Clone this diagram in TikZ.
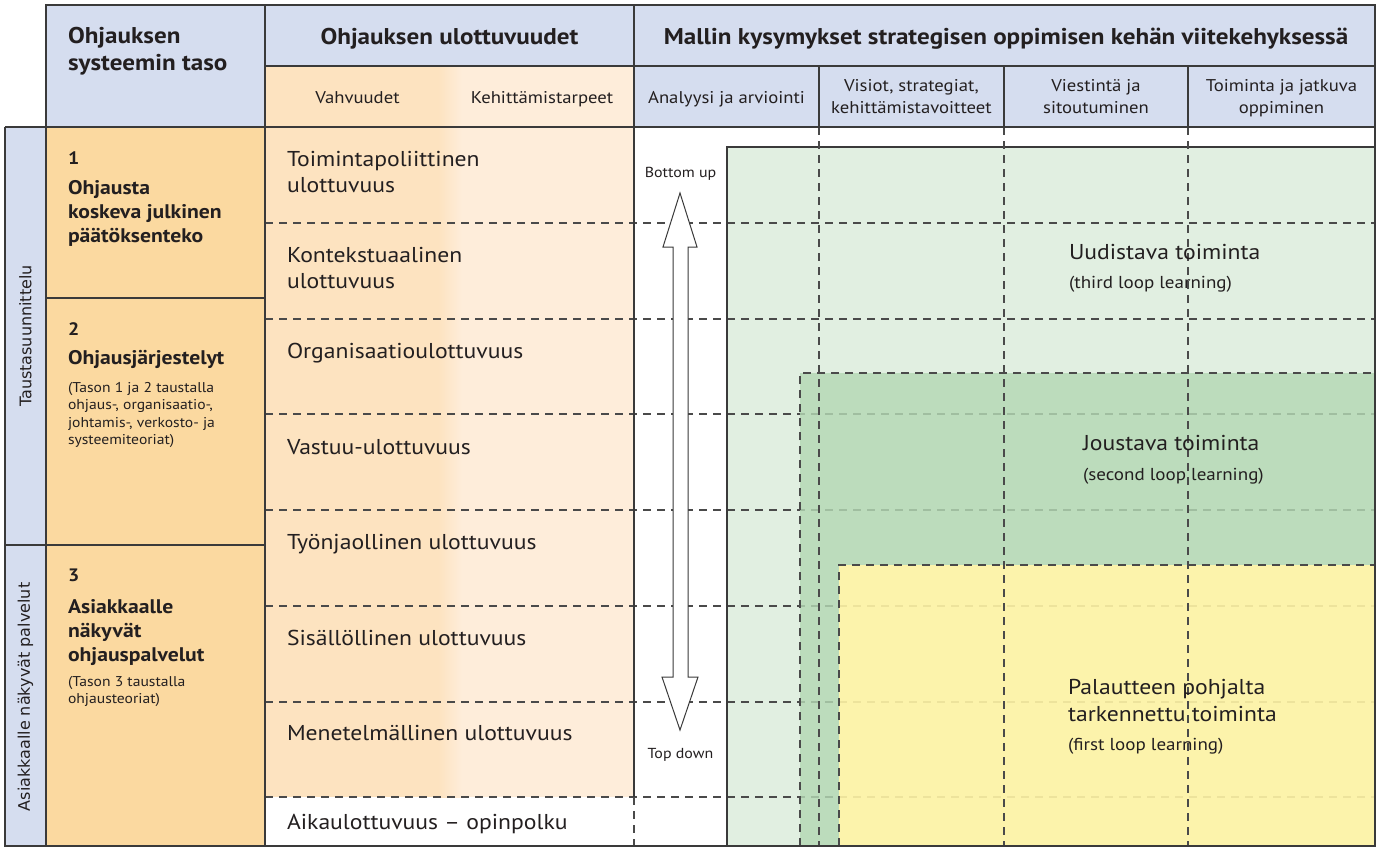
\documentclass[tikz,border=0pt]{standalone}
\usepackage{fontspec}
\setmainfont{PT Sans}[FakeStretch=1.1]
\newfontfamily\stripfont{DejaVu Sans}
\definecolor{hblue}{HTML}{D5DDEF}
\definecolor{lorange}{HTML}{FBD9A0}
\definecolor{peachA}{HTML}{FDE3C0}
\definecolor{peachB}{HTML}{FEEDDA}
\definecolor{lgreen}{HTML}{E1EFE1}
\definecolor{dgreen}{HTML}{B4D8B4}
\definecolor{yel}{HTML}{FFF4A6}
\definecolor{linec}{HTML}{3A3A3A}
\definecolor{dashc}{HTML}{4A4A4A}
\definecolor{txtc}{HTML}{231F20}
\newcommand{\lftlines}[1]{\begin{tabular}[t]{@{}l@{}}#1\end{tabular}}
\newcommand{\ctrlines}[1]{\begin{tabular}[t]{@{}c@{}}#1\end{tabular}}
\tikzset{
  gridline/.style={draw=linec, line width=1.2pt},
  dline/.style={draw=dashc, line width=1.2pt, dash pattern=on 8pt off 6pt},
  tx/.style={inner sep=0pt, outer sep=0pt, text=txtc},
  hdr/.style={tx, font=\fontsize{22.8}{26.5}\selectfont\bfseries},
  subh/.style={tx, font=\fontsize{17}{22}\selectfont, anchor=base},
  dimlab/.style={tx, font=\fontsize{21.5}{26.5}\selectfont, anchor=base west},
  lvlnum/.style={tx, font=\fontsize{18}{20}\selectfont\bfseries, anchor=base west},
  lvltitle/.style={tx, font=\fontsize{19.7}{24.3}\selectfont\bfseries, anchor=base west},
  lvlnote/.style={tx, font=\fontsize{14.2}{17.6}\selectfont, anchor=base west},
  striplab/.style={tx, font=\stripfont\fontsize{16}{18}\selectfont, rotate=90},
  looptitle/.style={tx, font=\fontsize{21.5}{27}\selectfont, anchor=base west},
  loopnote/.style={tx, font=\fontsize{17.3}{19}\selectfont, anchor=base west},
  arrlab/.style={tx, font=\fontsize{14.5}{16}\selectfont, anchor=base},
}
\begin{document}
\begin{tikzpicture}[x=1pt,y=-1pt]
\useasboundingbox (0,0) rectangle (1379,851);
\fill[white] (0,0) rectangle (1379,851);

% ---------- background fills ----------
\fill[hblue] (46,5) rectangle (1375,66);
\fill[hblue] (46,66) rectangle (265,127);
\fill[hblue] (634,66) rectangle (1375,127);
\fill[peachA] (265,66) rectangle (438,797);
\shade[left color=peachA, right color=peachB] (438,66) rectangle (462,797);
\fill[peachB] (462,66) rectangle (634,797);
\fill[hblue] (5,127) rectangle (46,846);
\fill[lorange] (46,127) rectangle (265,846);
\fill[lgreen] (727,147) rectangle (1375,846);

% ---------- horizontal dashed row lines ----------
\foreach \yy in {223,319,414,510,606,702,797}
  \draw[dline] (265,\yy) -- (1375,\yy);

% ---------- learning loop areas ----------
\fill[dgreen, fill opacity=0.82] (800,373) -- (1375,373) -- (1375,565) -- (839,565) -- (839,846) -- (800,846) -- cycle;
\fill[yel, fill opacity=0.9] (839,565) rectangle (1375,846);
\draw[dline] (800,846) -- (800,373) -- (1375,373);
\draw[dline] (839,846) -- (839,565) -- (1375,565);
\draw[gridline, line width=1.1pt] (727,846) -- (727,147) -- (1375,147);

% ---------- vertical dashed column lines ----------
\foreach \xx in {819,1004,1188}
  \draw[dline] (\xx,127) -- (\xx,846);
\draw[dline] (634,797) -- (634,846);

% ---------- double arrow ----------
\draw[draw=linec, fill=white, line width=1pt, line join=miter]
  (680,193) -- (697,247) -- (688,247) -- (688,677) -- (698,677) -- (680,730)
  -- (662,677) -- (673,677) -- (673,247) -- (663,247) -- cycle;

% ---------- solid grid lines ----------
\draw[gridline] (46,5) rectangle (1375,127);
\draw[gridline] (265,5) -- (265,846);
\draw[gridline] (634,5) -- (634,797);
\draw[gridline] (265,66) -- (1375,66);
\foreach \xx in {819,1004,1188}
  \draw[gridline] (\xx,66) -- (\xx,127);
\draw[gridline] (5,127) -- (1375,127);
\draw[gridline] (5,127) -- (5,846) -- (1375,846) -- (1375,5);
\draw[gridline] (46,127) -- (46,846);
\draw[gridline] (46,298) -- (265,298);
\draw[gridline] (5,545) -- (265,545);

% ---------- header texts ----------
\node[hdr, anchor=base west] (hsys) at (68,44) {\lftlines{Ohjauksen\\systeemin taso}};
\node[hdr, anchor=base] (hdim) at (449.5,45) {Ohjauksen ulottuvuudet};
\node[hdr, anchor=base] (hmal) at (1006,45) {Mallin kysymykset strategisen oppimisen kehän viitekehyksessä};
\node[subh] (svah) at (357.5,103) {Vahvuudet};
\node[subh] (skeh) at (542,103) {Kehittämistarpeet};
\node[subh] (sana) at (726.5,103) {Analyysi ja arviointi};
\node[subh] (svis) at (911.5,92) {\ctrlines{Visiot, strategiat,\\kehittämistavoitteet}};
\node[subh] (svie) at (1096,92) {\ctrlines{Viestintä ja\\sitoutuminen}};
\node[subh] (stoi) at (1281.5,92) {\ctrlines{Toiminta ja jatkuva\\oppiminen}};

% ---------- vertical strip labels ----------
\node[striplab] (taus) at (25.5,336) {Taustasuunnittelu};
\node[striplab] (asia) at (25.5,697) {Asiakkaalle näkyvät palvelut};

% ---------- level texts ----------
\node[lvlnum] (n1) at (68,164) {1};
\node[lvltitle] (t1) at (68,194) {\lftlines{Ohjausta\\koskeva julkinen\\päätöksenteko}};
\node[lvlnum] (n2) at (68,335) {2};
\node[lvltitle] (t2) at (68,364) {Ohjausjärjestelyt};
\node[lvlnote] (o2) at (68,392) {\lftlines{(Tason 1 ja 2 taustalla\\ohjaus-, organisaatio-,\\johtamis-, verkosto- ja\\systeemiteoriat)}};
\node[lvlnum] (n3) at (68,581) {3};
\node[lvltitle] (t3) at (68,613) {\lftlines{Asiakkaalle\\näkyvät\\ohjauspalvelut}};
\node[lvlnote] (o3) at (68,686) {\lftlines{(Tason 3 taustalla\\ohjausteoriat)}};

% ---------- dimension labels ----------
\node[dimlab] (d1) at (287,166) {\lftlines{Toimintapoliittinen\\ulottuvuus}};
\node[dimlab] (d2) at (287,262) {\lftlines{Kontekstuaalinen\\ulottuvuus}};
\node[dimlab] (d3) at (287,358) {Organisaatioulottuvuus};
\node[dimlab] (d4) at (287,454) {Vastuu-ulottuvuus};
\node[dimlab] (d5) at (287,549) {Työnjaollinen ulottuvuus};
\node[dimlab] (d6) at (287,645) {Sisällöllinen ulottuvuus};
\node[dimlab] (d7) at (287,740) {Menetelmällinen ulottuvuus};
\node[dimlab] (d8) at (287,829) {Aikaulottuvuus – opinpolku};

% ---------- arrow labels ----------
\node[arrlab] (bup) at (680.5,177) {Bottom up};
\node[arrlab] (tdn) at (680.5,758) {Top down};

% ---------- loop texts ----------
\node[looptitle] (u1) at (1069,259) {Uudistava toiminta};
\node[loopnote] (u2) at (1069,288) {(third loop learning)};
\node[looptitle] (j1) at (1083,450) {Joustava toiminta};
\node[loopnote] (j2) at (1083,480) {(second loop learning)};
\node[looptitle] (p1) at (1068,694) {\lftlines{Palautteen pohjalta\\tarkennettu toiminta}};
\node[loopnote] (p2) at (1068,750) {(first loop learning)};
\end{tikzpicture}
\end{document}
